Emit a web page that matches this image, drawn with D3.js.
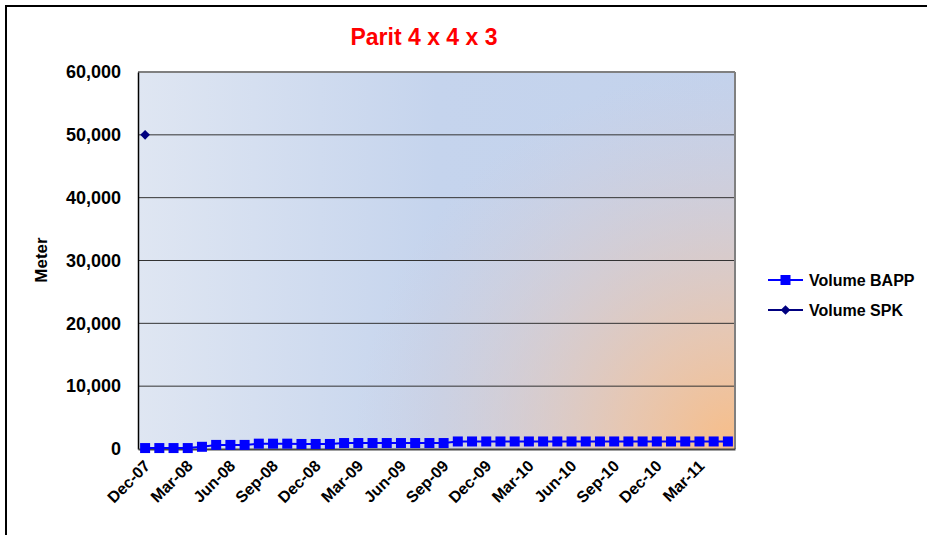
<!DOCTYPE html>
<html>
<head>
<meta charset="utf-8">
<script src="https://cdn.jsdelivr.net/npm/d3@7"></script>
<style>
  body { margin: 0; background: #fff; }
  text { font-family: "Liberation Sans", Arial, sans-serif; font-weight: bold; }
</style>
</head>
<body>
<div id="chart"></div>
<script>
var months = ["Dec-07","Jan-08","Feb-08","Mar-08","Apr-08","May-08","Jun-08","Jul-08","Aug-08","Sep-08",
  "Oct-08","Nov-08","Dec-08","Jan-09","Feb-09","Mar-09","Apr-09","May-09","Jun-09","Jul-09",
  "Aug-09","Sep-09","Oct-09","Nov-09","Dec-09","Jan-10","Feb-10","Mar-10","Apr-10","May-10",
  "Jun-10","Jul-10","Aug-10","Sep-10","Oct-10","Nov-10","Dec-10","Jan-11","Feb-11","Mar-11",
  "Apr-11","May-11"];
var tickLabels = ["Dec-07","Mar-08","Jun-08","Sep-08","Dec-08","Mar-09","Jun-09","Sep-09",
  "Dec-09","Mar-10","Jun-10","Sep-10","Dec-10","Mar-11"];
var volumeBAPP = [150,150,150,150,350,650,650,650,850,850,850,800,800,800,
  950,950,950,950,950,950,950,950,
  1200,1200,1200,1200,1200,1200,1200,1200,1200,1200,
  1200,1200,1200,1200,1200,1200,1200,1200,1200,1200];
var volumeSPK = [50000];
var yTicks = [0,10000,20000,30000,40000,50000,60000];

var svgWidth = 927, svgHeight = 535;
var plot = {left: 138, right: 735, top: 72, bottom: 449};

var svg = d3.select("#chart").append("svg")
    .attr("width", svgWidth)
    .attr("height", svgHeight);

// outer chart frame (runs off the right and bottom edges)
svg.append("rect")
    .attr("x", 6).attr("y", 6)
    .attr("width", 1000).attr("height", 600)
    .attr("fill", "#fff")
    .attr("stroke", "#000")
    .attr("stroke-width", 2);

var defs = svg.append("defs");
var lin = defs.append("linearGradient").attr("id", "bgLin")
    .attr("x1", "0%").attr("y1", "0%").attr("x2", "100%").attr("y2", "0%");
lin.append("stop").attr("offset", "0%").attr("stop-color", "#dfe6f2");
lin.append("stop").attr("offset", "50%").attr("stop-color", "#c5d4ed");
lin.append("stop").attr("offset", "100%").attr("stop-color", "#c3d2ec");

var rad = defs.append("radialGradient").attr("id", "bgRad")
    .attr("gradientUnits", "userSpaceOnUse")
    .attr("cx", plot.right).attr("cy", plot.bottom).attr("r", 380);
rad.append("stop").attr("offset", "0%").attr("stop-color", "#f8bd86").attr("stop-opacity", 1);
rad.append("stop").attr("offset", "30%").attr("stop-color", "#efc4a4").attr("stop-opacity", 0.8);
rad.append("stop").attr("offset", "100%").attr("stop-color", "#d8cad4").attr("stop-opacity", 0);

svg.append("rect")
    .attr("x", plot.left).attr("y", plot.top)
    .attr("width", plot.right - plot.left).attr("height", plot.bottom - plot.top)
    .attr("fill", "url(#bgLin)");
svg.append("rect")
    .attr("x", plot.left).attr("y", plot.top)
    .attr("width", plot.right - plot.left).attr("height", plot.bottom - plot.top)
    .attr("fill", "url(#bgRad)");

var xScale = d3.scaleBand().domain(months).range([plot.left, plot.right]).padding(0);
var yScale = d3.scaleLinear().domain([0, 60000]).range([plot.bottom, plot.top]);
var cx = function(i) { return xScale(months[i]) + xScale.bandwidth() / 2; };

// gridlines
svg.append("g")
    .selectAll("line")
    .data(yTicks.slice(1))
    .enter()
    .append("line")
    .attr("x1", plot.left).attr("x2", plot.right)
    .attr("y1", function(d) { return yScale(d); })
    .attr("y2", function(d) { return yScale(d); })
    .attr("stroke", function(d) { return d === 60000 ? "#808080" : "#333"; })
    .attr("stroke-width", function(d) { return d === 60000 ? 2 : 1; });

// right border
svg.append("line")
    .attr("x1", plot.right).attr("x2", plot.right)
    .attr("y1", plot.top).attr("y2", plot.bottom)
    .attr("stroke", "#808080").attr("stroke-width", 2);

// y axis
var leftAxis = d3.axisLeft(yScale).tickValues(yTicks).tickSize(0).tickPadding(17)
    .tickFormat(d3.format(","));
var gy = svg.append("g")
    .attr("transform", "translate(" + plot.left + ",0)")
    .call(leftAxis);
gy.select(".domain").attr("stroke", "#000").attr("stroke-width", 1.5);
gy.selectAll("text").style("font-size", "18px").attr("fill", "#000");

// x axis
var bottomAxis = d3.axisBottom(xScale).tickValues(tickLabels).tickSize(0);
var gx = svg.append("g")
    .attr("transform", "translate(0," + plot.bottom + ")")
    .call(bottomAxis);
gx.select(".domain").attr("stroke", "#444").attr("stroke-width", 2);
gx.selectAll("text")
    .style("font-size", "16px")
    .attr("fill", "#000")
    .style("text-anchor", "end")
    .attr("dy", null)
    .attr("y", 0)
    .attr("transform", "translate(6,18) rotate(-45)");

// axis title
svg.append("text")
    .attr("transform", "translate(47,260) rotate(-90)")
    .style("text-anchor", "middle")
    .style("font-size", "17px")
    .text("Meter");

// title
svg.append("text")
    .attr("x", 424).attr("y", 45)
    .style("text-anchor", "middle")
    .style("font-size", "23px")
    .attr("fill", "#ff0000")
    .text("Parit 4 x 4 x 3");

// BAPP series
var line = d3.line()
    .x(function(d, i) { return cx(i); })
    .y(function(d) { return yScale(d); });
svg.append("path")
    .datum(volumeBAPP)
    .attr("d", line)
    .attr("fill", "none")
    .attr("stroke", "#0000ff")
    .attr("stroke-width", 2);
svg.append("g")
    .selectAll("rect")
    .data(volumeBAPP)
    .enter()
    .append("rect")
    .attr("x", function(d, i) { return cx(i) - 5; })
    .attr("y", function(d) { return yScale(d) - 5; })
    .attr("width", 10).attr("height", 10)
    .attr("fill", "#0000ff");

// SPK series
var diamond = d3.symbol().type(d3.symbolDiamond2).size(60);
svg.append("g")
    .selectAll("path")
    .data(volumeSPK)
    .enter()
    .append("path")
    .attr("d", diamond)
    .attr("transform", function(d, i) { return "translate(" + cx(i) + "," + yScale(d) + ")"; })
    .attr("fill", "#000080");

// legend
var legendItems = [
  {name: "Volume BAPP", color: "#0000ff", shape: "square", y: 280},
  {name: "Volume SPK", color: "#000080", shape: "diamond", y: 310}
];
var lg = svg.append("g").selectAll("g").data(legendItems).enter().append("g")
    .attr("transform", function(d) { return "translate(768," + d.y + ")"; });
lg.append("line")
    .attr("x1", 0).attr("x2", 35).attr("y1", 0).attr("y2", 0)
    .attr("stroke", function(d) { return d.color; }).attr("stroke-width", 2);
lg.each(function(d) {
  var g = d3.select(this);
  if (d.shape === "square") {
    g.append("rect").attr("x", 12.5).attr("y", -5).attr("width", 10).attr("height", 10)
      .attr("fill", d.color);
  } else {
    g.append("path").attr("d", diamond).attr("transform", "translate(17.5,0)")
      .attr("fill", d.color);
  }
});
lg.append("text")
    .attr("x", 41).attr("y", 6)
    .style("font-size", "16px")
    .text(function(d) { return d.name; });
</script>
</body>
</html>
